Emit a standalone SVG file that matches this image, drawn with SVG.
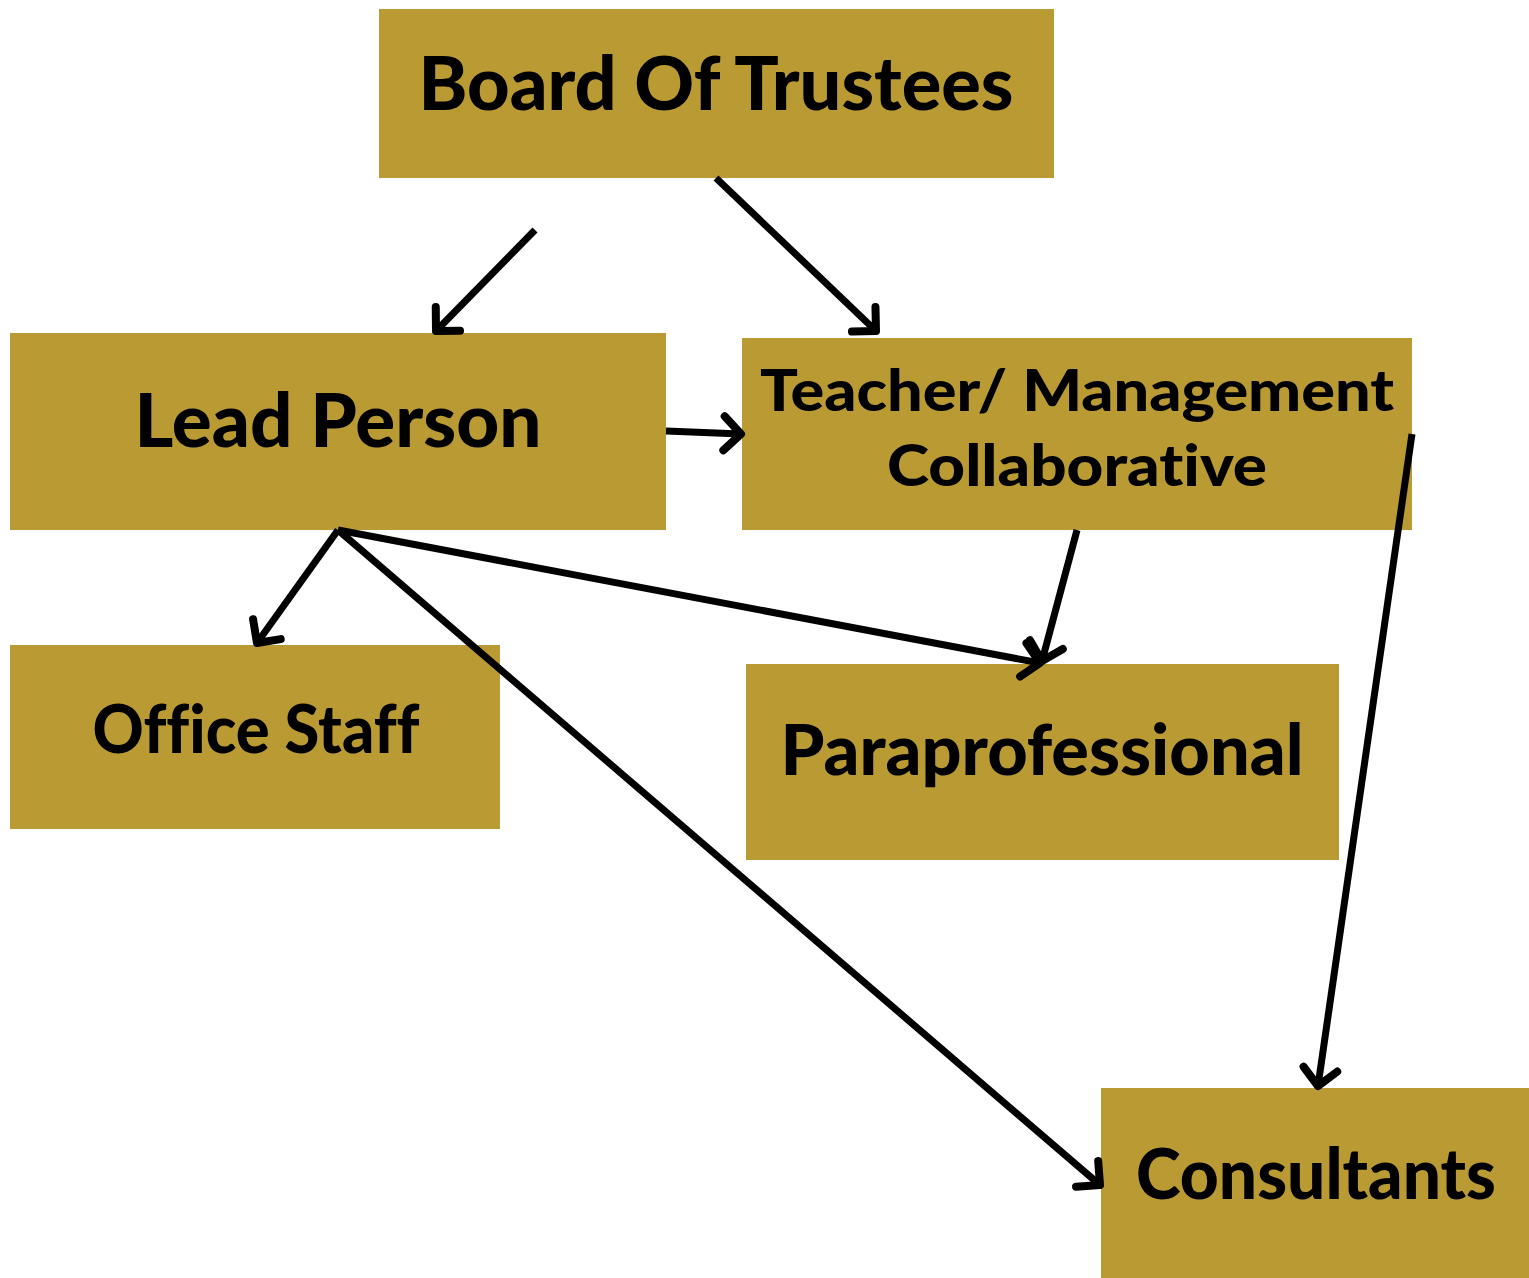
<svg xmlns="http://www.w3.org/2000/svg" width="1529" height="1278" viewBox="0 0 1529 1278">
<style>
.box{fill:#BA9B33}
.t{font-family:"Lato","Open Sans","Liberation Sans",sans-serif;font-weight:900;fill:#000;text-anchor:middle;font-variant-ligatures:none}
.c{stroke:#000;stroke-width:7;fill:none;stroke-linecap:butt}
</style>
<defs>
<marker id="ah" markerUnits="userSpaceOnUse" markerWidth="44" markerHeight="44" refX="22" refY="22" orient="auto" viewBox="0 0 44 44">
<path d="M5,5 L22,22 L5,39" fill="none" stroke="#000" stroke-width="8" stroke-linecap="round" stroke-linejoin="round"/>
</marker>
</defs>
<rect width="1529" height="1278" fill="#fff"/>
<g id="board"><rect class="box" x="379" y="9" width="675" height="169"/><text class="t" x="716" y="110" font-size="74" textLength="595" lengthAdjust="spacingAndGlyphs">Board Of Trustees</text></g>
<g id="lead"><rect class="box" x="10" y="333" width="656" height="197"/><text class="t" x="338" y="447" font-size="74" textLength="407" lengthAdjust="spacingAndGlyphs">Lead Person</text></g>
<g id="teacher"><rect class="box" x="742" y="338" width="670" height="192"/><text class="t" x="1077" y="411" font-size="58" textLength="634" lengthAdjust="spacingAndGlyphs">Teacher/ Management</text><text class="t" x="1077" y="486" font-size="58" textLength="380" lengthAdjust="spacingAndGlyphs">Collaborative</text></g>
<g id="office"><rect class="box" x="10" y="645" width="490" height="184"/><text class="t" x="256" y="753" font-size="66" textLength="327" lengthAdjust="spacingAndGlyphs">Office Staff</text></g>
<g id="para"><rect class="box" x="746" y="664" width="593" height="196"/><text class="t" x="1042" y="775" font-size="70" textLength="523" lengthAdjust="spacingAndGlyphs">Paraprofessional</text></g>
<g id="consult"><rect class="box" x="1101" y="1088" width="428" height="190"/><text class="t" x="1316" y="1199" font-size="70" textLength="360" lengthAdjust="spacingAndGlyphs">Consultants</text></g>
<g id="connectors">
<line class="c" x1="535" y1="230" x2="436" y2="331" marker-end="url(#ah)"/>
<line class="c" x1="716" y1="178" x2="876" y2="331" marker-end="url(#ah)"/>
<line class="c" x1="666" y1="431" x2="741" y2="434" marker-end="url(#ah)"/>
<line class="c" x1="338" y1="530" x2="257" y2="643" marker-end="url(#ah)"/>
<line class="c" x1="338" y1="530" x2="1100" y2="1185" marker-end="url(#ah)"/>
<line class="c" x1="338" y1="530" x2="1040" y2="663" marker-end="url(#ah)"/>
<line class="c" x1="1077" y1="530" x2="1042" y2="661" marker-end="url(#ah)"/>
<line class="c" x1="1412" y1="434" x2="1318" y2="1086" marker-end="url(#ah)"/>
</g>
</svg>
